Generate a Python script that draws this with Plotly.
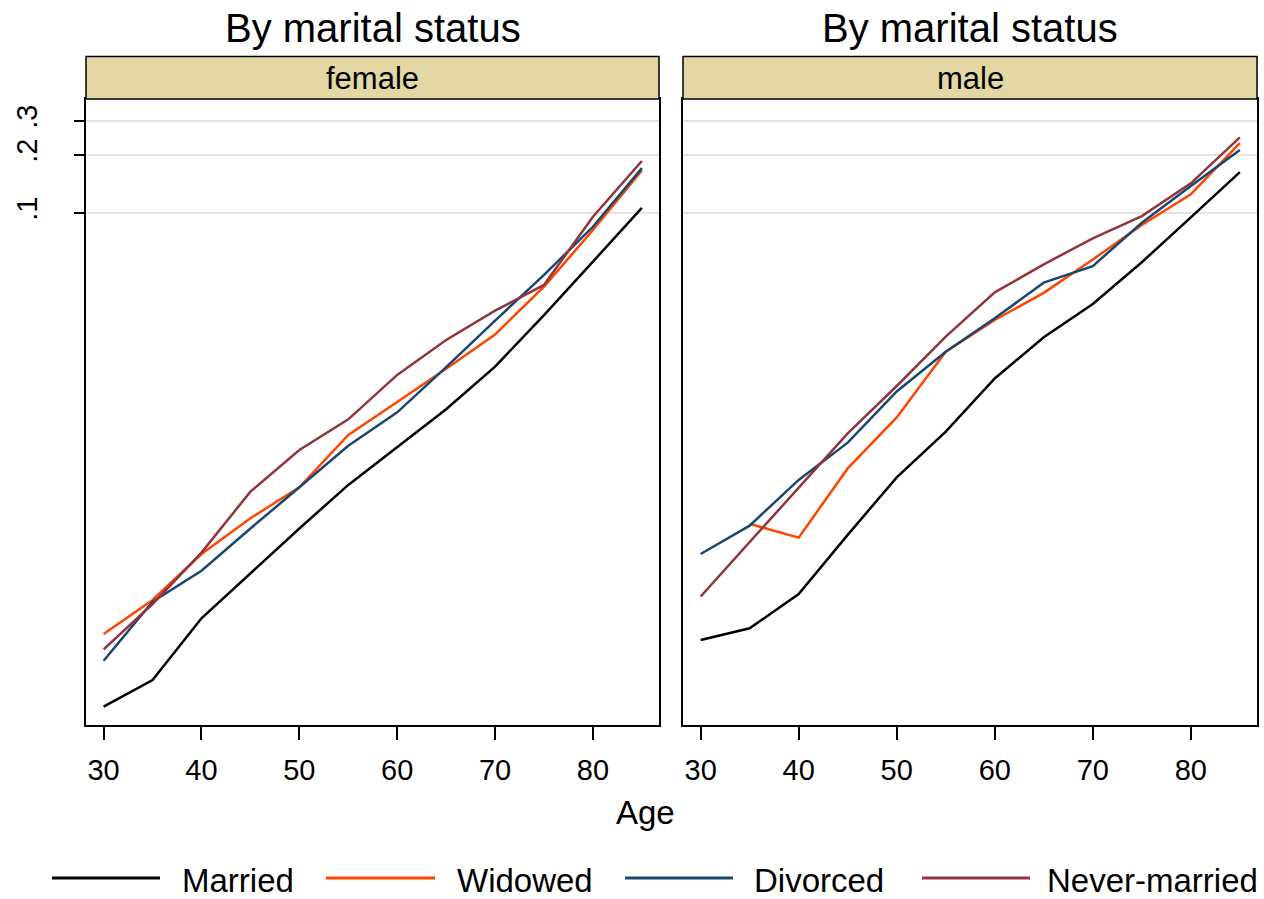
import plotly.graph_objects as go

ages = [30, 35, 40, 45, 50, 55, 60, 65, 70, 75, 80, 85]

female_married = [0.000277, 0.000380, 0.000794, 0.00136, 0.00232, 0.00390, 0.00615, 0.00962, 0.0160, 0.0296, 0.0560, 0.1064]
female_widowed = [0.000659, 0.000988, 0.00171, 0.00262, 0.00379, 0.00708, 0.0105, 0.0156, 0.0235, 0.0415, 0.0817, 0.166]
female_divorced = [0.000479, 0.000968, 0.00140, 0.00232, 0.00379, 0.00622, 0.00927, 0.0159, 0.0277, 0.0478, 0.0849, 0.171]
female_never = [0.000548, 0.000942, 0.00174, 0.00360, 0.00592, 0.00853, 0.0145, 0.0220, 0.0312, 0.0424, 0.0957, 0.186]

male_married = [0.000613, 0.000705, 0.00106, 0.00215, 0.00427, 0.00736, 0.0139, 0.0227, 0.0338, 0.0556, 0.0950, 0.163]
male_widowed = [None, 0.00245, 0.00208, 0.00475, 0.00873, 0.0191, 0.0279, 0.0386, 0.0575, 0.0867, 0.125, 0.230]
male_divorced = [0.00171, 0.00240, 0.00414, 0.00646, 0.0119, 0.0191, 0.0285, 0.0436, 0.0531, 0.0891, 0.138, 0.212]
male_never = [0.00103, 0.00197, 0.00375, 0.00722, 0.0127, 0.0229, 0.0388, 0.0542, 0.0740, 0.0964, 0.1425, 0.2465]

series_names = ["Married", "Widowed", "Divorced", "Never-married"]
series_colors = ["#000000", "#ff4500", "#1a476f", "#90353b"]
panel_labels = ["female", "male"]
panel_title = "By marital status"
x_ticks = [30, 40, 50, 60, 70, 80]
y_ticks = [0.1, 0.2, 0.3]
y_ticktext = [".1", ".2", ".3"]

W, H = 1264, 899
FONT = "Liberation Sans, Arial, sans-serif"

def px(x):
    return x / W

def py(y):
    return 1 - y / H

panels = [
    [female_married, female_widowed, female_divorced, female_never],
    [male_married, male_widowed, male_divorced, male_never],
]

fig = go.Figure()
for p, data in enumerate(panels):
    xa = "x" if p == 0 else "x2"
    ya = "y" if p == 0 else "y2"
    for name, vals, col in zip(series_names, data, series_colors):
        fig.add_trace(go.Scatter(x=ages, y=vals, mode="lines", name=name,
                                 line=dict(color=col, width=2.5),
                                 xaxis=xa, yaxis=ya, showlegend=False))

left_dom = [px(86), px(659)]
right_dom = [px(683), px(1257)]
ydom = [py(725), py(99)]

xcommon = dict(range=[28.2, 86.75], tickvals=x_ticks, ticks="outside", ticklen=13,
               tickwidth=1.8, tickcolor="black", showgrid=False, zeroline=False,
               showline=True, mirror=True, linecolor="black", linewidth=2,
               tickfont=dict(size=29, color="black", family=FONT),
               ticklabelstandoff=5)
ycommon = dict(type="log", range=[-3.653, -0.409], tickvals=y_ticks, ticktext=y_ticktext,
               showgrid=True, gridcolor="#e3e3e3", gridwidth=2, zeroline=False,
               showline=True, mirror=True, linecolor="black", linewidth=2)

fig.update_layout(
    width=W, height=H, margin=dict(l=0, r=0, t=0, b=0),
    paper_bgcolor="white", plot_bgcolor="white",
    font=dict(family=FONT, color="black"),
    xaxis=dict(domain=left_dom, anchor="y", **xcommon),
    xaxis2=dict(domain=right_dom, anchor="y2", **xcommon),
    yaxis=dict(domain=ydom, anchor="x", ticks="outside", ticklen=10, tickwidth=1.8,
               tickcolor="black", tickangle=-90, ticklabelstandoff=25,
               tickfont=dict(size=29, color="black", family=FONT), **ycommon),
    yaxis2=dict(domain=ydom, anchor="x2", matches="y", ticks="", showticklabels=False,
                **ycommon),
)

shapes = []
annotations = []
for dom, lab in zip([left_dom, right_dom], panel_labels):
    shapes.append(dict(type="rect", xref="paper", yref="paper", x0=dom[0], x1=dom[1],
                       y0=py(99), y1=py(56.5), fillcolor="#e3d8a3",
                       line=dict(color="black", width=1.5), layer="above"))
    annotations.append(dict(text=lab, xref="paper", yref="paper", x=(dom[0] + dom[1]) / 2,
                            y=py(78), xanchor="center", yanchor="middle", showarrow=False,
                            font=dict(size=31, color="black", family=FONT)))
    annotations.append(dict(text=panel_title, xref="paper", yref="paper",
                            x=(dom[0] + dom[1]) / 2, y=py(28), xanchor="center",
                            yanchor="middle", showarrow=False,
                            font=dict(size=40, color="black", family=FONT)))

annotations.append(dict(text="Age", xref="paper", yref="paper", x=px(646), y=py(812),
                        xanchor="center", yanchor="middle", showarrow=False,
                        font=dict(size=33, color="black", family=FONT)))

# legend
leg_line_x = [(52, 160), (326, 435), (625, 733), (922, 1030)]
leg_text_x = [180, 455, 752, 1045]
for (x0, x1), tx, name, col in zip(leg_line_x, leg_text_x, series_names, series_colors):
    shapes.append(dict(type="line", xref="paper", yref="paper", x0=px(x0), x1=px(x1),
                       y0=py(878), y1=py(878), line=dict(color=col, width=3)))
    annotations.append(dict(text=name, xref="paper", yref="paper", x=px(tx), y=py(880),
                            xanchor="left", yanchor="middle", showarrow=False,
                            font=dict(size=33, color="black", family=FONT)))

fig.update_layout(shapes=shapes, annotations=annotations)
fig.write_html("out.html")
